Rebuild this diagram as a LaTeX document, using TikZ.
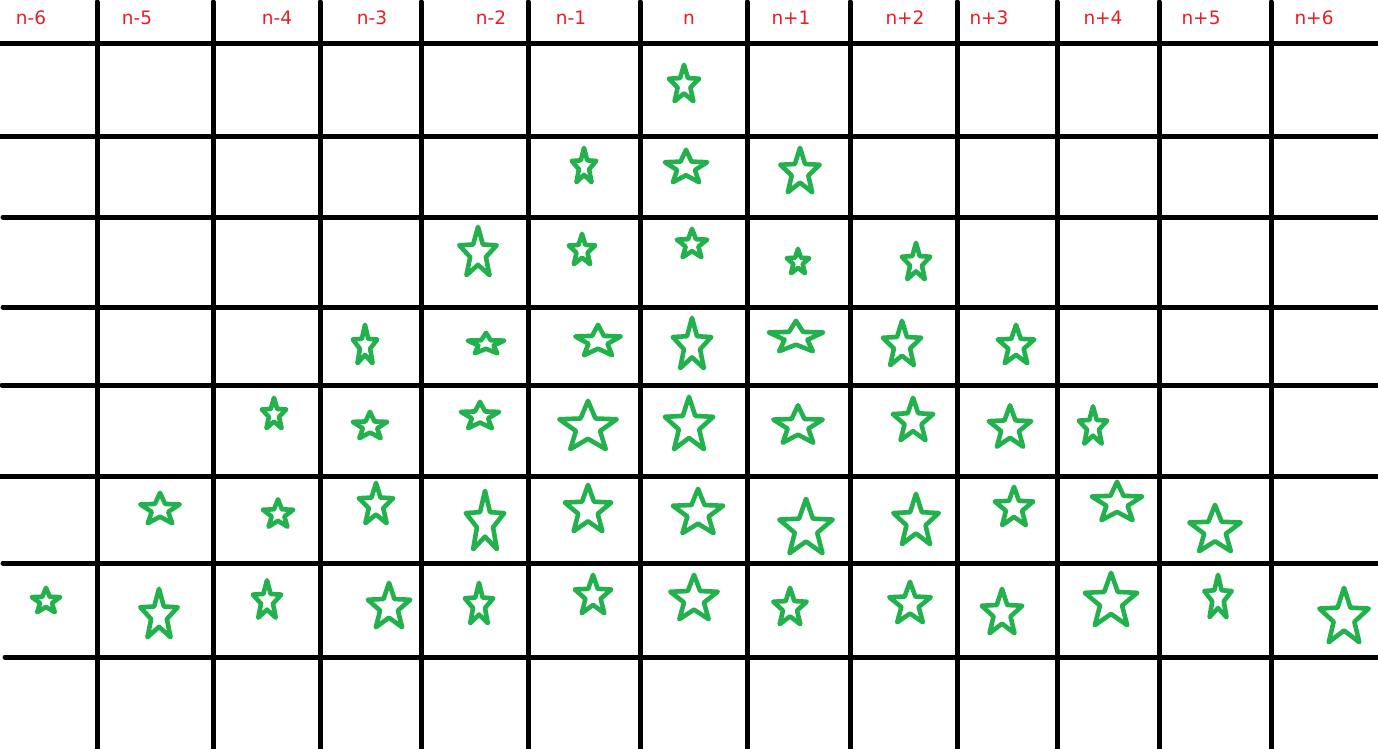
\documentclass[tikz,border=0pt]{standalone}
\usepackage{fontspec}
\setmainfont{DejaVu Sans}
\usepackage{tikz}
\usepackage{xcolor}
\definecolor{paintgreen}{HTML}{22B14C}
\definecolor{paintred}{HTML}{ED1C24}

\tikzset{
    gridline/.style={line width=5pt, black, line cap=round},
    starline/.style={line width=4.6pt, paintgreen, line join=round},
    collabel/.style={text=paintred, anchor=base, inner sep=0pt, font=\fontsize{18.5}{20}\selectfont},
    pics/gstar/.style 2 args={code={
        \pgfmathsetmacro\starsx{(#1-4.6)/1.902}
        \pgfmathsetmacro\starsy{(#2-4.6)/1.809}
        \draw[starline, shift={(0,0.0955*\starsy)}, xscale=\starsx, yscale=-\starsy]
            (90:1) -- (126:0.42) -- (162:1) -- (198:0.42) -- (234:1) -- (270:0.42)
            -- (306:1) -- (342:0.42) -- (18:1) -- (54:0.42) -- cycle;
    }}
}

\begin{document}
\begin{tikzpicture}[x=1pt, y=-1pt]
    \useasboundingbox (0,0) rectangle (1378,748);

    % Column lines
    \foreach \x in {97, 213, 320, 421, 528, 640, 747, 850, 957, 1057, 1159, 1271} {
        \draw[gridline] (\x,2) -- (\x,750);
    }

    % Row lines
    \foreach \y/\s in {43/0, 136/0, 217/3, 307/3, 385/2, 476/0, 563/3, 657/5} {
        \draw[gridline] (\s,\y) -- (1380,\y);
    }

    % Column labels
    \foreach \x/\t [count=\i] in {31/n-6, 137/n-5, 277/n-4, 372/n-3, 491/n-2, 571/n-1, 689/n,
                                  791/n+1, 905/n+2, 989/n+3, 1103/n+4, 1201/n+5, 1314/n+6} {
        \node[collabel] (col\i) at (\x,24) {\t};
    }

    % Stars: centre x / centre y / width / height
    \foreach \x/\y/\w/\h in {684/83/35/41,
        584/165/29/39, 686/166/47/37, 800/170/44/49,
        478/251/42/53, 582/249/31/35, 692/243/35/33, 798/261/27/29, 916/261/33/41,
        365/344/29/43, 486/343/41/25, 598/340/50/35, 692/343/43/55, 796/336/59/35,
        902/343/43/49, 1016/344/41/43,
        274/413/29/35, 370/425/39/31, 480/415/43/31, 588/425/62/53, 689/423/53/57,
        798/424/54/42, 913/419/45/47, 1010/426/47/46, 1093/425/33/42,
        160/508/44/35, 278/513/35/32, 376/503/39/45, 485/520/43/63, 588/508/51/51,
        698/511/55/49, 806/526/58/59, 916/519/50/55, 1014/506/43/43, 1117/501/55/43,
        1215/528/56/51,
        46/600/33/29, 159/613/42/53, 267/599/33/42, 389/605/47/49, 479/603/33/45,
        593/594/41/43, 694/597/52/49, 790/606/38/41, 910/602/46/45, 1002/611/45/49,
        1111/599/57/57, 1218/596/32/47, 1344/615/54/59} {
        \pic at (\x,\y) {gstar={\w}{\h}};
    }
\end{tikzpicture}
\end{document}
